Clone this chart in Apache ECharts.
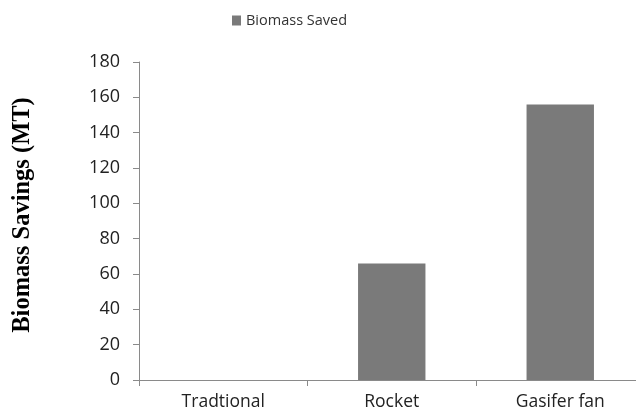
<!DOCTYPE html>
<html>
<head>
<meta charset="utf-8">
<script src="https://cdn.jsdelivr.net/npm/echarts@6/dist/echarts.min.js"></script>
<style>html,body{margin:0;padding:0;background:#fff;overflow:hidden;width:636px;height:414px}#c{width:646px;height:414px}</style>
</head>
<body>
<div id="c"></div>
<script>
var categories = ['Tradtional', 'Rocket', 'Gasifer fan'];
var biomassSaved = [0, 66, 156];
var seriesName = 'Biomass Saved';
var yTitle = 'Biomass Savings (MT)';

var chart = echarts.init(document.getElementById('c'), null, {renderer: 'canvas'});
chart.setOption({
  animation: false,
  backgroundColor: '#fff',
  legend: {
    data: [seriesName],
    left: 227, top: 8,
    icon: 'rect', itemWidth: 9, itemHeight: 10, itemGap: 4,
    textStyle: {fontFamily: 'Open Sans', fontSize: 14.5, color: '#333'}
  },
  grid: {left: 139, top: 62, width: 505.5, height: 318, containLabel: false, outerBoundsMode: 'none'},
  xAxis: {
    type: 'category',
    data: categories,
    axisLine: {lineStyle: {color: '#8a8a8a', width: 1}},
    axisTick: {show: true, length: 6, lineStyle: {color: '#8a8a8a'}},
    axisLabel: {fontFamily: 'Open Sans', fontSize: 17.5, color: '#222', margin: 13}
  },
  yAxis: {
    type: 'value', min: 0, max: 180, interval: 20,
    name: yTitle, nameLocation: 'middle', nameGap: 104, nameRotate: 90,
    nameTextStyle: {fontFamily: 'Liberation Serif', fontWeight: 'bold', fontSize: 24.5, color: '#000', padding: [0, 0, 0, 12]},
    axisLine: {show: true, lineStyle: {color: '#8a8a8a', width: 1}},
    axisTick: {show: true, length: 6, lineStyle: {color: '#8a8a8a'}},
    splitLine: {show: false},
    axisLabel: {fontFamily: 'Open Sans', fontSize: 18, color: '#222', margin: 19}
  },
  series: [{
    name: seriesName,
    type: 'bar',
    data: biomassSaved,
    barWidth: '40%',
    itemStyle: {color: '#7a7a7a'}
  }]
});
</script>
</body>
</html>
